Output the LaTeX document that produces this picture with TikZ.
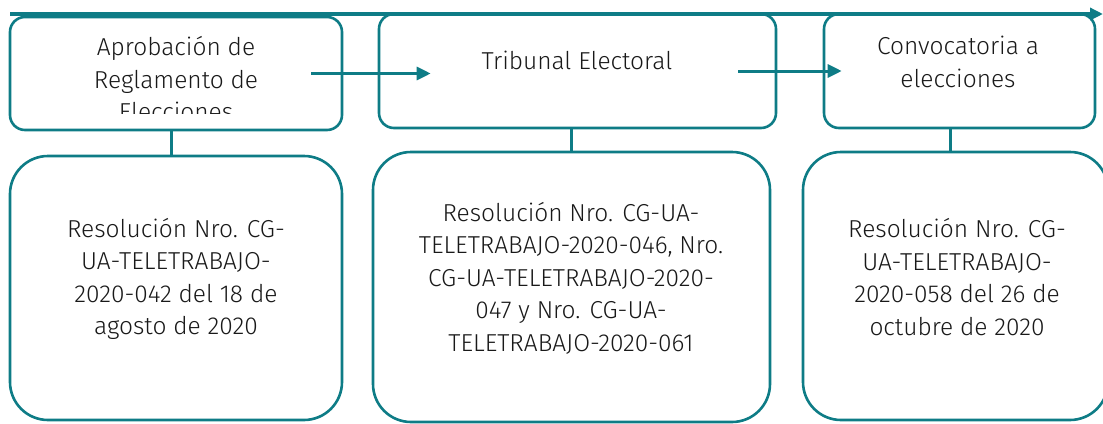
\documentclass[tikz,border=0pt]{standalone}
\usepackage{fontspec}
\setmainfont{Fira Sans Light}
\usetikzlibrary{arrows.meta,positioning}
\definecolor{tealline}{RGB}{14,124,134}
\definecolor{ink}{RGB}{25,25,25}
\begin{document}
\begin{tikzpicture}[x=1pt,y=-1pt]
\tikzstyle{topbox}=[draw=tealline, line width=2.6pt, rounded corners=15pt, inner sep=0pt, fill=white]
\tikzstyle{lowbox}=[draw=tealline, line width=2.6pt, rounded corners=38pt, inner sep=0pt, fill=white]
\tikzstyle{txt}=[text=ink, align=center, font=\fontsize{24.5}{32.5}\selectfont, inner sep=0pt]
\tikzstyle{link}=[draw=tealline, line width=3pt]
\tikzstyle{arrow}=[draw=tealline, line width=3pt, -{Triangle[length=14pt,width=13pt]}]
\useasboundingbox (0,0) rectangle (1103,423);
% upper row
\node[topbox, minimum width=332pt, minimum height=113pt] (A1) at (176,73.5) {};
\node[topbox, minimum width=397pt, minimum height=114pt] (A2) at (577.5,71) {};
\node[topbox, minimum width=271pt, minimum height=114pt] (A3) at (959.5,71) {};
% lower row
\node[lowbox, minimum width=332pt, minimum height=264pt] (B1) at (176,288) {};
\node[lowbox, minimum width=397pt, minimum height=270pt] (B2) at (571.5,287) {};
\node[lowbox, minimum width=305pt, minimum height=268pt] (B3) at (955.5,286) {};
% texts
\begin{scope}
\clip (0,0) rectangle (1103,113);
\node[txt] (T1) at (176,79) {Aprobación de\\Reglamento de\\Elecciones};
\end{scope}
\node[txt] (T2) at (577,60) {Tribunal Electoral};
\node[txt] (T3) at (958,62) {Convocatoria a\\elecciones};
\node[txt] (R1) at (176,279) {Resolución Nro. CG-\\UA-TELETRABAJO-\\2020-042 del 18 de\\agosto de 2020};
\node[txt] (R2) at (571,278) {Resolución Nro. CG-UA-\\TELETRABAJO-2020-046, Nro.\\CG-UA-TELETRABAJO-2020-\\047 y Nro. CG-UA-\\TELETRABAJO-2020-061};
\node[txt] (R3) at (957,277) {Resolución Nro. CG-\\UA-TELETRABAJO-\\2020-058 del 26 de\\octubre de 2020};
% connectors
\draw[link] ([xshift=-5pt]A1.south) -- ([xshift=-5pt]A1.south |- B1.north);
\draw[link] (A2.south -| B2.north) -- (B2.north);
\draw[link] ([xshift=-9pt]A3.south) -- ([xshift=-9pt]A3.south |- B3.north);
\draw[arrow] ([xshift=-32pt]A1.east) -- ([xshift=53pt]A2.west |- A1.east);
\draw[arrow] ([xshift=-39pt]A2.east) -- ([xshift=19pt]A3.west);
% time line
\coordinate (S) at (10,14);
\coordinate (E) at (1103,14);
\draw[draw=tealline, line width=4.5pt, -{Triangle[length=13pt,width=12pt]}] (S) -- (E);
\end{tikzpicture}
\end{document}
